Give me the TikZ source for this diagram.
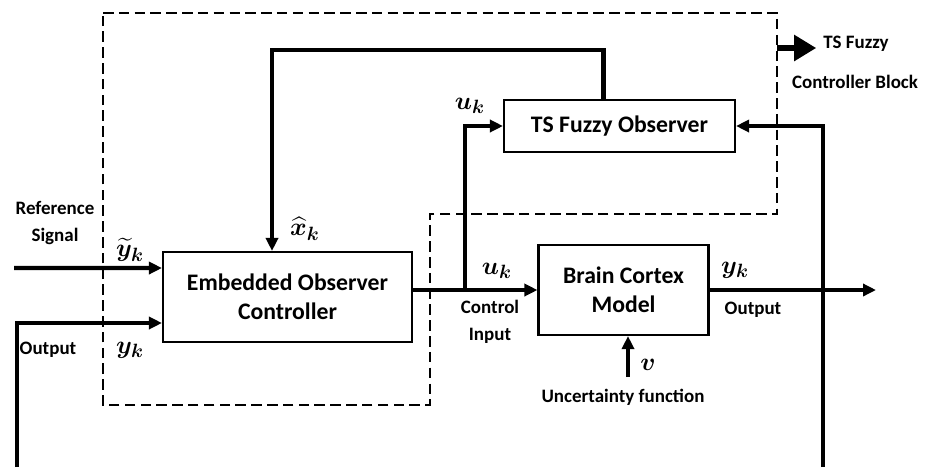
\documentclass[tikz,border=0pt]{standalone}
\usepackage{fontspec}
\setmainfont{Carlito}
\usepackage{amsmath,bm}
\usetikzlibrary{arrows.meta,positioning,calc}

\begin{document}
\begin{tikzpicture}[
    x=0.02cm, y=-0.02cm,
    block/.style={rectangle, draw, line width=1.2pt, align=center, inner sep=0pt, font=\fontsize{13.5}{16.5}\selectfont\bfseries},
    sig/.style={line width=2.4pt, -{Triangle[length=0.26cm, width=0.24cm]}},
    lbl/.style={align=center, inner sep=1pt, font=\fontsize{10.8}{15}\selectfont\bfseries},
    var/.style={inner sep=0.5pt, font=\fontsize{15}{17}\selectfont}
]
\useasboundingbox (0,0) rectangle (935,467);

% Controller region (dashed)
\draw[line width=1.5pt, dash pattern=on 6pt off 3pt] (103,13) -- (777,13) -- (777,214) -- (430,214) -- (430,405) -- (103,405) -- cycle;

% Main blocks
\node[block, minimum width=4.98cm, minimum height=1.8cm] (eoc) at (287.5,297) {Embedded Observer\\Controller};
\node[block, minimum width=4.62cm, minimum height=1.04cm] (tso) at (619.5,126) {TS Fuzzy Observer};
\node[block, minimum width=3.4cm, minimum height=1.8cm] (bcm) at (623.5,290) {Brain Cortex\\Model};

% Free ends
\coordinate (ref) at (14,268);
\coordinate (fbleft) at (17,467);
\coordinate (fbright) at (823,467);
\coordinate (yout) at (876,290);
\coordinate (fbtop) at (272,50);
\coordinate (split) at (465,290);
\coordinate (unc) at (628,377);
\coordinate (blk) at (777,48);

% Signal paths
\draw[sig] (ref) -- ([yshift=0.58cm]eoc.west);
\draw[sig] (fbleft) |- ([yshift=-0.52cm]eoc.west);
\draw[sig] (eoc.east |- bcm) -- (bcm.west);
\draw[sig] (split) |- (tso.west);
\draw[sig] ([xshift=-0.32cm]tso.north) |- (fbtop) -- (fbtop |- eoc.north);
\draw[sig] (bcm.east) -- (yout);
\draw[sig] (fbright) |- (tso.east);
\draw[sig] (unc) -- (unc |- bcm.south);

% Block legend
\node[lbl] (tsf) at (856,44) {TS Fuzzy};
\node[lbl] (cblk) at (855,82) {Controller Block};
\draw[line width=3pt, -{Triangle[length=0.44cm, width=0.5cm]}] (blk) -- ([xshift=-0.1cm]blk -| tsf.west);

% Labels
\node[lbl] (refsig) at (55,223) {Reference\\Signal};
\node[lbl] (outl) at (48,350) {Output};
\node[lbl] (ctrl) at (490,322) {Control\\Input};
\node[lbl] (outr) at (753,310) {Output};
\node[lbl] (uncf) at (623,397) {Uncertainty function};
\node[var] (ytil) at (130,250) {$\widetilde{\bm{y}}_{\bm{k}}$};
\node[var] (yin) at (130,350) {$\bm{y}_{\bm{k}}$};
\node[var] (xhat) at (305,229) {$\widehat{\bm{x}}_{\bm{k}}$};
\node[var] (uup) at (470,106) {$\bm{u}_{\bm{k}}$};
\node[var] (ulow) at (497,271) {$\bm{u}_{\bm{k}}$};
\node[var] (yk) at (735,270) {$\bm{y}_{\bm{k}}$};
\node[var] (vv) at (648,365) {$\bm{v}$};

\end{tikzpicture}
\end{document}
